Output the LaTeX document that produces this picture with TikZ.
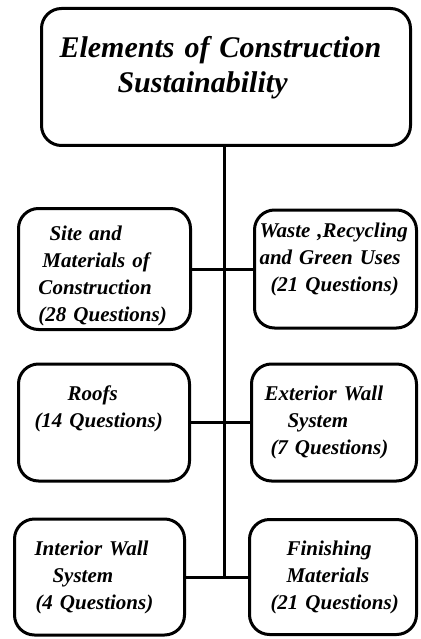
\documentclass[tikz,border=0pt]{standalone}
\usepackage{fontspec}
\setmainfont{Liberation Serif}

\begin{document}
\begin{tikzpicture}[x=1pt, y=-1pt, line width=3pt,
  box/.style={draw, rounded corners=20pt, inner sep=0pt, align=left,
    font=\fontsize{21}{27}\selectfont\bfseries\itshape},
  titlebox/.style={box, font=\fontsize{30}{35}\selectfont\bfseries\itshape},
  boxdim/.style 2 args={minimum width=#1, text width=#1, minimum height=#2}]

% --- Sfondo e cornice ---
\fill[white] (0,0) rectangle (420,639);
\useasboundingbox (0,0) rectangle (420,639);

% --- Riquadro principale ---
\node[titlebox, boxdim={369pt}{137pt}] (title) at (226,77)
  {\hspace*{18pt}Elements of Construction\\
   \hspace*{76pt}Sustainability\\[-9pt]\mbox{}};

% --- Riquadri laterali ---
\node[box, boxdim={172pt}{121pt}] (sitemat) at (104.5,269)
  {\mbox{}\\[1pt]
   \hspace*{31pt}Site and\\
   \hspace*{24pt}Materials of\\
   \hspace*{20pt}Construction\\
   \hspace*{20pt}(28 Questions)};
\node[box, boxdim={162pt}{118pt}] (waste) at (335.5,269)
  {\hspace*{5pt}Waste ,Recycling\\
   \hspace*{5pt}and Green Uses\\
   \hspace*{16pt}(21 Questions)\\[-4pt]\mbox{}};

\node[box, boxdim={171pt}{117pt}] (roofs) at (104,422.5)
  {\hspace*{49pt}Roofs\\
   \hspace*{16pt}(14 Questions)\\[4pt]\mbox{}};
\node[box, boxdim={165pt}{117pt}] (extwall) at (334,422.5)
  {\hspace*{13pt}Exterior Wall\\
   \hspace*{36pt}System\\
   \hspace*{19pt}(7 Questions)};

\node[box, boxdim={170pt}{116pt}] (intwall) at (99.5,577)
  {\hspace*{20pt}Interior Wall\\
   \hspace*{38pt}System\\
   \hspace*{21pt}(4 Questions)};
\node[box, boxdim={167pt}{115pt}] (finish) at (333,577)
  {\hspace*{37pt}Finishing\\
   \hspace*{37pt}Materials\\
   \hspace*{21pt}(21 Questions)};

% --- Collegamenti ---
\coordinate (trunk) at (224,577);
\draw (title.south -| trunk) -- (trunk);
\draw (sitemat) -- (waste);
\draw (roofs) -- (extwall);
\draw (intwall) -- (finish);

\end{tikzpicture}
\end{document}
